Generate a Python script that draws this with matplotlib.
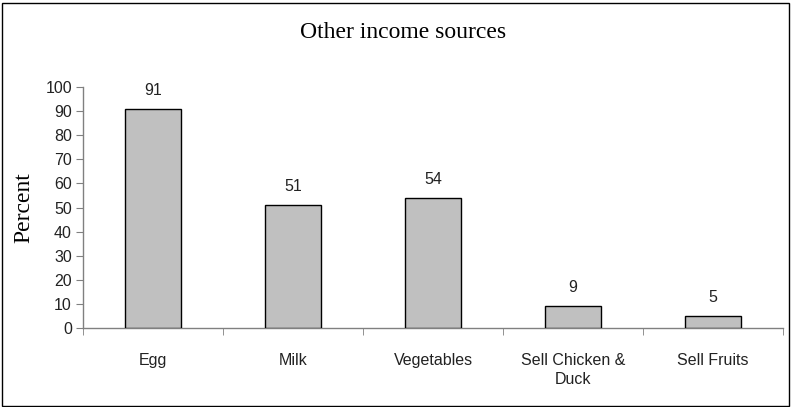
import matplotlib
matplotlib.use("Agg")
import matplotlib.pyplot as plt
from matplotlib.patches import Rectangle
import numpy as np

categories = ["Egg", "Milk", "Vegetables", "Sell Chicken &\nDuck", "Sell Fruits"]
values = [91, 51, 54, 9, 5]
yticks = [0, 10, 20, 30, 40, 50, 60, 70, 80, 90, 100]

W, H = 792, 407
fig = plt.figure(figsize=(W / 100, H / 100), dpi=100)
fig.patch.set_facecolor("white")

# outer frame around the whole chart
fig.add_artist(Rectangle((2 / W, 1 / H), (W - 5) / W, (H - 4) / H,
                         transform=fig.transFigure, fill=False,
                         edgecolor="black", linewidth=1.0))

ax = fig.add_axes([83 / W, 79 / H, 700 / W, 241 / H])
x = np.arange(len(categories))
ax.bar(x, values, width=0.4, color="#C0C0C0", edgecolor="black", linewidth=1.0, zorder=3)

fs = 11.5
for xi, v in zip(x, values):
    ax.annotate(str(v), (xi, v), xytext=(0, 8), textcoords="offset points",
                ha="center", va="bottom", fontsize=fs, family="Liberation Sans",
                color="#222222")

ax.set_xlim(-0.5, len(categories) - 0.5)
ax.set_ylim(0, 100)
ax.set_yticks(yticks)
ax.set_yticklabels([str(t) for t in yticks], family="Liberation Sans", fontsize=fs,
                   color="#222222")

# category labels centred between boundary ticks
ax.set_xticks(x)
ax.set_xticklabels(categories, family="Liberation Sans", fontsize=fs, color="#222222",
                   va="top", linespacing=1.35)
ax.tick_params(axis="x", which="major", length=0, pad=18)
ax.set_xticks(np.arange(len(categories) + 1) - 0.5, minor=True)
ax.tick_params(axis="x", which="minor", length=5, color="#808080", direction="out")
ax.tick_params(axis="y", length=5, color="#808080", direction="out", pad=3)

for side in ["top", "right"]:
    ax.spines[side].set_visible(False)
for side in ["left", "bottom"]:
    ax.spines[side].set_color("#808080")
    ax.spines[side].set_linewidth(1.0)

ax.set_ylabel("Percent", family="Liberation Serif", fontsize=17, labelpad=8)
fig.text(403 / W, 1 - 32 / H, "Other income sources", family="Liberation Serif",
         fontsize=17, ha="center", va="center")

fig.savefig("out.png", dpi=100)
